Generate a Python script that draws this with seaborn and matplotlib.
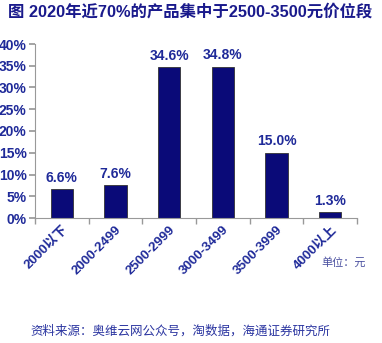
import matplotlib
matplotlib.use("Agg")
import matplotlib.pyplot as plt
import seaborn as sns
import pandas as pd
import numpy as np

categories = ["2000以下", "2000-2499", "2500-2999", "3000-3499", "3500-3999", "4000以上"]
values = [6.6, 7.6, 34.6, 34.8, 15.0, 1.3]
yticks = [0, 5, 10, 15, 20, 25, 30, 35, 40]

sns.set_theme(style="white")
plt.rcParams['font.family'] = ['Liberation Sans', 'Noto Sans CJK SC', 'DejaVu Sans']

txt = "#1F2A99"
bar_c = "#0A0A78"
df = pd.DataFrame({"cat": categories, "val": values})

fig = plt.figure(figsize=(3.82, 3.43), dpi=100)
ax = fig.add_axes([35/382, 1-218/343, 322/382, 174/343])
sns.barplot(data=df, x="cat", y="val", color=bar_c, width=0.42, ax=ax,
            saturation=1, edgecolor="#333333", linewidth=0.6)
ax.set_ylim(0, 40)
ax.set_xlim(-0.5, 5.5)
ax.set_yticks(yticks)
ax.set_yticklabels([f"{t}%" for t in yticks], fontsize=10, fontweight="bold", color=txt)
ax.set_xticks(np.arange(6))
ax.set_xticklabels(categories, rotation=45, ha="right", rotation_mode="anchor",
                   fontsize=9.5, fontweight="bold", color=txt)
ax.tick_params(axis="x", length=0, pad=4)
ax.set_xticks(np.arange(-0.5, 6, 1), minor=True)
ax.tick_params(axis="x", which="minor", length=4, color="#999999", bottom=True)
ax.tick_params(axis="y", length=4, color="#999999", left=True, pad=2)
ax.set_xlabel("")
ax.set_ylabel("")
for s in ["top", "right"]:
    ax.spines[s].set_visible(False)
for s in ["left", "bottom"]:
    ax.spines[s].set_color("#999999")
    ax.spines[s].set_linewidth(0.8)
for i, v in enumerate(values):
    ax.text(i, v + 1.0, f"{v:.1f}%", ha="center", va="bottom", fontsize=10,
            fontweight="bold", color=txt)

fig.text(8/382, 1-12/343, "图 2020年近70%的产品集中于2500-3500元价位段", fontsize=11.8,
         fontweight="bold", color="#1A1A8C", va="center", ha="left",
         family=['Liberation Sans', 'Noto Sans CJK SC'])
fig.text(366/382, 1-262/343, "单位：元", fontsize=8, color="#4A50A0", va="center", ha="right",
         family=['Noto Sans CJK SC'])
fig.text(30/382, 1-331/343, "资料来源：奥维云网公众号，淘数据，海通证券研究所", fontsize=9,
         color="#2A34A0", va="center", ha="left", family=['Noto Sans CJK SC'])

fig.savefig("out.png", dpi=100)
